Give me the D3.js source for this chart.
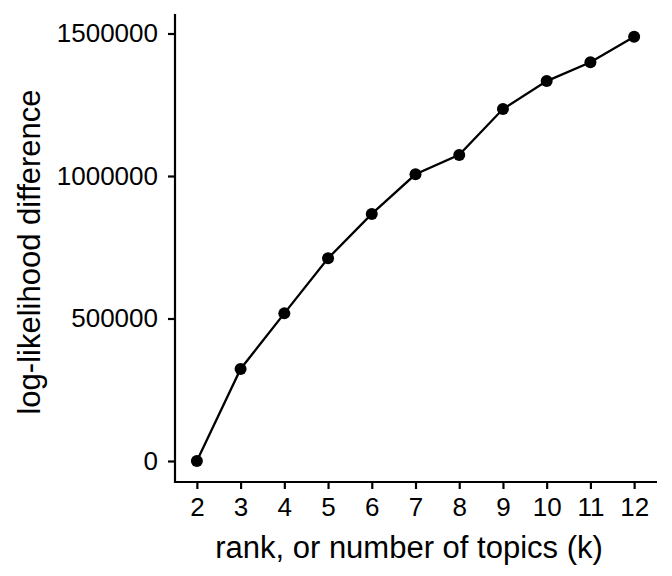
<!DOCTYPE html>
<html>
<head>
<meta charset="utf-8">
<script src="https://cdn.jsdelivr.net/npm/d3@7"></script>
<style>
  body { margin: 0; background: #fff; }
  text { font-family: "Liberation Sans", Arial, sans-serif; }
</style>
</head>
<body>
<div id="chart"></div>
<script>
// The svg
var width = 672;
var height = 576;

// data
var ranks = [2, 3, 4, 5, 6, 7, 8, 9, 10, 11, 12];
var llDiff = [0, 323000, 518000, 711000, 867000, 1006000, 1074000, 1235000, 1333000, 1399000, 1489000];
var yTicks = [0, 500000, 1000000, 1500000];

var svg = d3.select("#chart")
    .append("svg")
    .attr("width", width)
    .attr("height", height);

// scales
var x = d3.scaleLinear()
    .domain([1.5, 12.5])
    .range([175, 656]);

var y = d3.scaleLinear()
    .domain([0, 1500000])
    .range([461, 33.5]);

// axes
var xAxis = svg.append("g")
    .attr("transform", "translate(0,482)")
    .call(d3.axisBottom(x).tickValues(ranks).tickSize(7).tickPadding(9).tickSizeOuter(0));

var yAxis = svg.append("g")
    .attr("transform", "translate(175,0)")
    .call(d3.axisLeft(y).tickValues(yTicks).tickFormat(d3.format("d")).tickSize(7).tickPadding(10).tickSizeOuter(0));

// extend axis lines like ggplot
yAxis.select(".domain").attr("d", "M0,14V483");
xAxis.select(".domain").attr("d", "M174,0H657");

svg.selectAll(".domain").attr("stroke", "#000").attr("stroke-width", 2.2);
svg.selectAll(".tick line").attr("stroke", "#000").attr("stroke-width", 2.2);
svg.selectAll(".tick text")
    .attr("fill", "#000")
    .style("font-size", "26px");

// line
var line = d3.line()
    .x(function (d, i) { return x(ranks[i]) })
    .y(function (d) { return y(d) });

svg.append("path")
    .datum(llDiff)
    .attr("d", line)
    .attr("fill", "none")
    .attr("stroke", "#000")
    .attr("stroke-width", 2.3);

// points
svg.selectAll("myCircles")
    .data(llDiff)
    .enter()
    .append("circle")
    .attr("cx", function (d, i) { return x(ranks[i]) })
    .attr("cy", function (d) { return y(d) })
    .attr("r", 6)
    .attr("fill", "#000");

// axis titles
svg.append("text")
    .attr("x", 409)
    .attr("y", 558)
    .attr("text-anchor", "middle")
    .style("font-size", "31px")
    .text("rank, or number of topics (k)");

svg.append("text")
    .attr("transform", "translate(40,252) rotate(-90)")
    .attr("text-anchor", "middle")
    .style("font-size", "31px")
    .text("log-likelihood difference");
</script>
</body>
</html>
